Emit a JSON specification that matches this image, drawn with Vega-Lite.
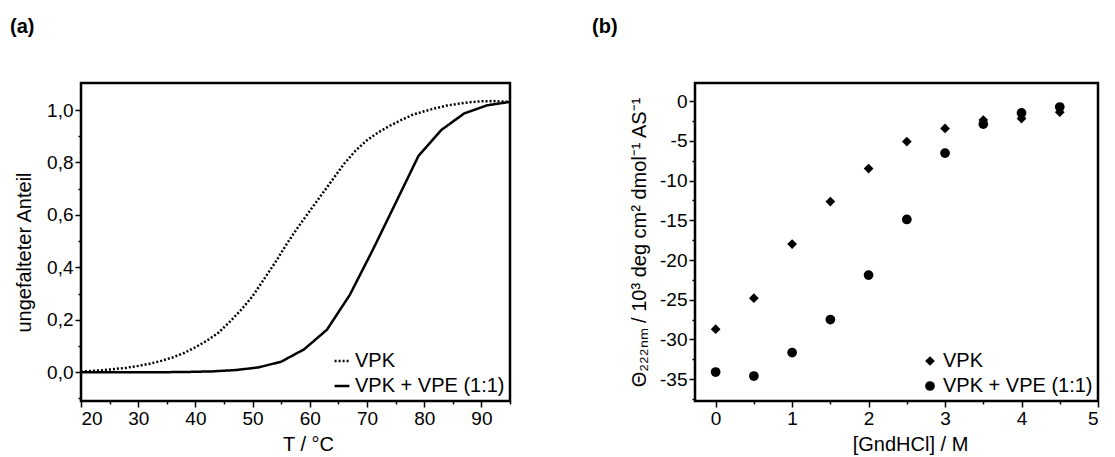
{
  "$schema": "https://vega.github.io/schema/vega-lite/v6.json",
  "padding": {"left": 8, "top": 15, "right": 5, "bottom": 4},
  "spacing": 78,
  "resolve": {
    "scale": {"shape": "independent", "strokeDash": "independent", "x": "independent", "y": "independent"},
    "legend": {"shape": "independent", "strokeDash": "independent"}
  },
  "config": {
    "font": "Liberation Sans",
    "view": {"stroke": "black", "strokeWidth": 2.5},
    "axis": {
      "domain": false, "grid": false, "tickColor": "black", "tickWidth": 1.5,
      "labelColor": "black", "labelFontSize": 19, "labelFont": "Liberation Sans", "labelPadding": 2,
      "titleFontSize": 20, "titleFontWeight": "normal", "titleColor": "black", "titleFont": "Liberation Sans"
    },
    "legend": {"labelFontSize": 20, "labelColor": "black", "labelFont": "Liberation Sans", "padding": 0, "rowPadding": 5, "labelOffset": 3, "offset": 5},
    "title": {"font": "Liberation Sans", "fontSize": 20, "fontWeight": "bold", "color": "black", "anchor": "start", "frame": "group", "baseline": "alphabetic"}
  },
  "hconcat": [
    {
      "width": 429,
      "height": 318,
      "title": {"text": "(a)", "dx": -71, "offset": 46},
      "data": {"values": [
        {"T": 20, "f": 0.002, "curve": "VPK"},
        {"T": 22, "f": 0.005, "curve": "VPK"},
        {"T": 24, "f": 0.008, "curve": "VPK"},
        {"T": 26, "f": 0.012, "curve": "VPK"},
        {"T": 28, "f": 0.017, "curve": "VPK"},
        {"T": 30, "f": 0.024, "curve": "VPK"},
        {"T": 32, "f": 0.032, "curve": "VPK"},
        {"T": 34, "f": 0.043, "curve": "VPK"},
        {"T": 36, "f": 0.056, "curve": "VPK"},
        {"T": 38, "f": 0.073, "curve": "VPK"},
        {"T": 40, "f": 0.095, "curve": "VPK"},
        {"T": 42, "f": 0.12, "curve": "VPK"},
        {"T": 44, "f": 0.15, "curve": "VPK"},
        {"T": 46, "f": 0.192, "curve": "VPK"},
        {"T": 48, "f": 0.238, "curve": "VPK"},
        {"T": 50, "f": 0.29, "curve": "VPK"},
        {"T": 52, "f": 0.355, "curve": "VPK"},
        {"T": 54, "f": 0.42, "curve": "VPK"},
        {"T": 56, "f": 0.49, "curve": "VPK"},
        {"T": 58, "f": 0.555, "curve": "VPK"},
        {"T": 60, "f": 0.615, "curve": "VPK"},
        {"T": 62, "f": 0.675, "curve": "VPK"},
        {"T": 64, "f": 0.735, "curve": "VPK"},
        {"T": 66, "f": 0.795, "curve": "VPK"},
        {"T": 68, "f": 0.845, "curve": "VPK"},
        {"T": 70, "f": 0.885, "curve": "VPK"},
        {"T": 72, "f": 0.915, "curve": "VPK"},
        {"T": 74, "f": 0.94, "curve": "VPK"},
        {"T": 76, "f": 0.962, "curve": "VPK"},
        {"T": 78, "f": 0.982, "curve": "VPK"},
        {"T": 80, "f": 0.995, "curve": "VPK"},
        {"T": 82, "f": 1.007, "curve": "VPK"},
        {"T": 84, "f": 1.017, "curve": "VPK"},
        {"T": 86, "f": 1.024, "curve": "VPK"},
        {"T": 88, "f": 1.03, "curve": "VPK"},
        {"T": 90, "f": 1.033, "curve": "VPK"},
        {"T": 92, "f": 1.034, "curve": "VPK"},
        {"T": 94, "f": 1.032, "curve": "VPK"},
        {"T": 95, "f": 1.031, "curve": "VPK"},
        {"T": 20, "f": 0.0, "curve": "VPK + VPE (1:1)"},
        {"T": 23, "f": 0.0, "curve": "VPK + VPE (1:1)"},
        {"T": 27, "f": 0.0, "curve": "VPK + VPE (1:1)"},
        {"T": 31, "f": 0.0, "curve": "VPK + VPE (1:1)"},
        {"T": 35, "f": 0.0, "curve": "VPK + VPE (1:1)"},
        {"T": 39, "f": 0.001, "curve": "VPK + VPE (1:1)"},
        {"T": 43, "f": 0.003, "curve": "VPK + VPE (1:1)"},
        {"T": 47, "f": 0.008, "curve": "VPK + VPE (1:1)"},
        {"T": 51, "f": 0.018, "curve": "VPK + VPE (1:1)"},
        {"T": 55, "f": 0.04, "curve": "VPK + VPE (1:1)"},
        {"T": 59, "f": 0.087, "curve": "VPK + VPE (1:1)"},
        {"T": 63, "f": 0.162, "curve": "VPK + VPE (1:1)"},
        {"T": 67, "f": 0.295, "curve": "VPK + VPE (1:1)"},
        {"T": 71, "f": 0.466, "curve": "VPK + VPE (1:1)"},
        {"T": 75, "f": 0.645, "curve": "VPK + VPE (1:1)"},
        {"T": 79, "f": 0.825, "curve": "VPK + VPE (1:1)"},
        {"T": 83, "f": 0.924, "curve": "VPK + VPE (1:1)"},
        {"T": 87, "f": 0.987, "curve": "VPK + VPE (1:1)"},
        {"T": 91, "f": 1.018, "curve": "VPK + VPE (1:1)"},
        {"T": 95, "f": 1.031, "curve": "VPK + VPE (1:1)"}
      ]},
      "mark": {"type": "line", "color": "black", "strokeWidth": 2.5, "clip": true},
      "encoding": {
        "x": {
          "field": "T", "type": "quantitative",
          "scale": {"domain": [20, 95], "nice": false, "zero": false},
          "axis": {
            "title": "T / °C", "titlePadding": 6, "titleX": 227,
            "values": [20, 25, 30, 35, 40, 45, 50, 55, 60, 65, 70, 75, 80, 85, 90, 95],
            "labelExpr": "datum.value % 10 == 0 ? toString(datum.value) : ''",
            "tickSize": {"condition": {"test": "datum.value % 10 == 0", "value": 6}, "value": 3}
          }
        },
        "y": {
          "field": "f", "type": "quantitative",
          "scale": {"domain": [-0.11, 1.103], "nice": false, "zero": false},
          "axis": {
            "title": "ungefalteter Anteil", "titlePadding": 12, "titleY": 169,
            "values": [-0.1, 0, 0.1, 0.2, 0.3, 0.4, 0.5, 0.6, 0.7, 0.8, 0.9, 1.0],
            "labelExpr": "round(datum.value * 10) % 2 == 0 ? replace(format(datum.value, '.1f'), '.', ',') : ''",
            "tickSize": {"condition": {"test": "round(datum.value * 10) % 2 == 0", "value": 6}, "value": 3}
          }
        },
        "strokeDash": {
          "field": "curve", "type": "nominal",
          "scale": {"domain": ["VPK", "VPK + VPE (1:1)"], "range": [[2, 2], [1, 0]]},
          "legend": {"orient": "bottom-right", "title": null, "symbolType": "stroke", "symbolSize": 220, "symbolStrokeWidth": 2.5, "symbolStrokeColor": "black"}
        }
      }
    },
    {
      "width": 403,
      "height": 318,
      "title": {"text": "(b)", "dx": -103, "offset": 46},
      "data": {"values": [
        {"c": 0, "theta": -28.7, "sample": "VPK"},
        {"c": 0.5, "theta": -24.8, "sample": "VPK"},
        {"c": 1, "theta": -18.0, "sample": "VPK"},
        {"c": 1.5, "theta": -12.65, "sample": "VPK"},
        {"c": 2, "theta": -8.5, "sample": "VPK"},
        {"c": 2.5, "theta": -5.1, "sample": "VPK"},
        {"c": 3, "theta": -3.45, "sample": "VPK"},
        {"c": 3.5, "theta": -2.4, "sample": "VPK"},
        {"c": 4, "theta": -2.2, "sample": "VPK"},
        {"c": 4.5, "theta": -1.4, "sample": "VPK"},
        {"c": 0, "theta": -34.1, "sample": "VPK + VPE (1:1)"},
        {"c": 0.5, "theta": -34.6, "sample": "VPK + VPE (1:1)"},
        {"c": 1, "theta": -31.65, "sample": "VPK + VPE (1:1)"},
        {"c": 1.5, "theta": -27.5, "sample": "VPK + VPE (1:1)"},
        {"c": 2, "theta": -21.9, "sample": "VPK + VPE (1:1)"},
        {"c": 2.5, "theta": -14.9, "sample": "VPK + VPE (1:1)"},
        {"c": 3, "theta": -6.55, "sample": "VPK + VPE (1:1)"},
        {"c": 3.5, "theta": -2.9, "sample": "VPK + VPE (1:1)"},
        {"c": 4, "theta": -1.5, "sample": "VPK + VPE (1:1)"},
        {"c": 4.5, "theta": -0.75, "sample": "VPK + VPE (1:1)"}
      ]},
      "mark": {"type": "point", "filled": true, "color": "black", "opacity": 1, "size": 95},
      "encoding": {
        "x": {
          "field": "c", "type": "quantitative",
          "scale": {"domain": [-0.27, 5], "nice": false, "zero": false},
          "axis": {
            "title": "[GndHCl] / M", "titlePadding": 6, "titleX": 215,
            "values": [0, 0.5, 1, 1.5, 2, 2.5, 3, 3.5, 4, 4.5, 5],
            "labelExpr": "datum.value % 1 == 0 ? toString(datum.value) : ''",
            "tickSize": {"condition": {"test": "datum.value % 1 == 0", "value": 6}, "value": 3}
          }
        },
        "y": {
          "field": "theta", "type": "quantitative",
          "scale": {"domain": [-37.74, 2.27], "nice": false, "zero": false},
          "axis": {
            "title": "Θ₂₂₂ₙₘ / 10³ deg cm² dmol⁻¹ AS⁻¹", "titlePadding": 10,
            "values": [-37.5, -35, -32.5, -30, -27.5, -25, -22.5, -20, -17.5, -15, -12.5, -10, -7.5, -5, -2.5, 0],
            "labelExpr": "datum.value % 5 == 0 ? toString(datum.value) : ''",
            "tickSize": {"condition": {"test": "datum.value % 5 == 0", "value": 6}, "value": 3}
          }
        },
        "shape": {
          "field": "sample", "type": "nominal",
          "scale": {"domain": ["VPK", "VPK + VPE (1:1)"], "range": ["diamond", "circle"]},
          "legend": {"orient": "bottom-right", "title": null, "symbolSize": 95, "symbolFillColor": "black", "symbolStrokeColor": "black", "symbolOpacity": 1}
        }
      }
    }
  ]
}
